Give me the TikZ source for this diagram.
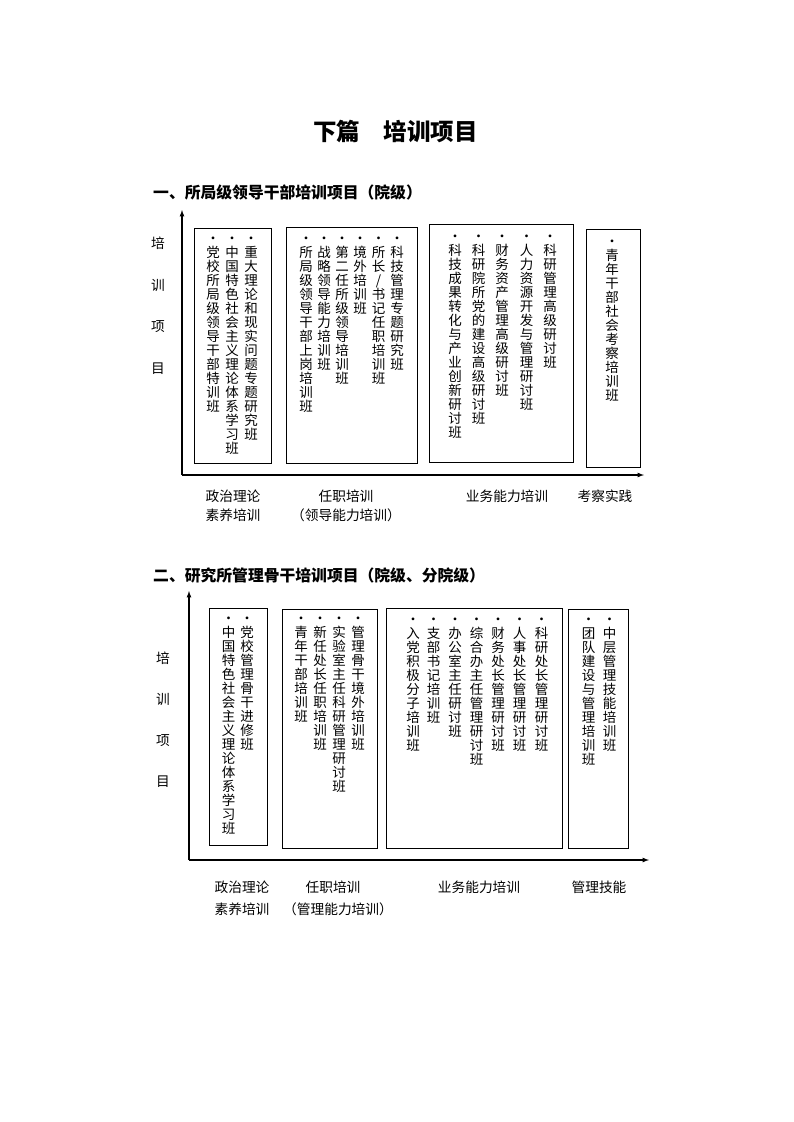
\documentclass[tikz,border=0pt]{standalone}
\usepackage{fontspec}
\setmainfont{Noto Sans CJK SC}
\usetikzlibrary{arrows, positioning}

% one character per line, read top to bottom
\ExplSyntaxOn
\NewDocumentCommand \vcol { m }
  {
    \vtop
      {
        \baselineskip=14pt
        \lineskiplimit=-100pt
        \tl_map_inline:nn {#1} { \hbox_to_wd:nn {14pt} { \hss ##1 \hss } }
      }
  }
\ExplSyntaxOff

\tikzstyle{frame}=[draw, rectangle, line width=0.9pt, inner sep=0pt]
\tikzstyle{column}=[anchor=base, inner sep=0pt, font=\fontsize{13.5}{14}\selectfont]
\tikzstyle{axis}=[line width=1.2pt, -latex]
\tikzstyle{label}=[inner sep=0pt, font=\fontsize{13.7}{14}\selectfont]
\tikzstyle{heading}=[anchor=west, inner sep=0pt, font=\bfseries\fontsize{15.8}{16}\selectfont]

\begin{document}
\begin{tikzpicture}[x=1pt, y=-1pt]
    \useasboundingbox (0, 0) rectangle (793, 1122);

    \node (title)[inner sep=0pt, font=\bfseries\fontsize{23.5}{24}\selectfont] at (395.5, 131.5) {下篇\quad 培训项目};

    % part one
    \node (headA)[heading] at (153, 192) {一、所局级领导干部培训项目（院级）};

    \coordinate (oA) at (182, 475);
    \coordinate (yA) at (182, 210);
    \coordinate (xA) at (644, 475);
    \draw[axis] (oA) -- (yA);
    \draw[axis] (oA) -- (xA);

    \node (pA1)[label] at (158, 243) {培};
    \node (pA2)[label] at (158, 285) {训};
    \node (pA3)[label] at (158, 327) {项};
    \node (pA4)[label] at (158, 369) {目};

    \node (boxA1)[frame, minimum width=77pt, minimum height=235pt] at (232.5, 345.5) {};
    \node (boxA2)[frame, minimum width=131pt, minimum height=236pt] at (351.5, 345.5) {};
    \node (boxA3)[frame, minimum width=144pt, minimum height=238pt] at (501, 343) {};
    \node (boxA4)[frame, minimum width=54pt, minimum height=238pt] at (613, 348) {};

    \node (cA11)[column] at (213, 243) {\vcol{•党校所局级领导干部特训班}};
    \node (cA12)[column] at (232, 243) {\vcol{•中国特色社会主义理论体系学习班}};
    \node (cA13)[column] at (251, 243) {\vcol{•重大理论和现实问题专题研究班}};

    \node (cA21)[column] at (306, 243) {\vcol{•所局级领导干部上岗培训班}};
    \node (cA22)[column] at (324, 243) {\vcol{•战略领导能力培训班}};
    \node (cA23)[column] at (342, 243) {\vcol{•第二任所级领导培训班}};
    \node (cA24)[column] at (360, 243) {\vcol{•境外培训班}};
    \node (cA25)[column] at (378.5, 243) {\vcol{•所长/书记任职培训班}};
    \node (cA26)[column] at (397, 243) {\vcol{•科技管理专题研究班}};

    \node (cA31)[column] at (455, 241) {\vcol{•科技成果转化与产业创新研讨班}};
    \node (cA32)[column] at (478.5, 241) {\vcol{•科研院所党的建设高级研讨班}};
    \node (cA33)[column] at (502, 241) {\vcol{•财务资产管理高级研讨班}};
    \node (cA34)[column] at (526.5, 241) {\vcol{•人力资源开发与管理研讨班}};
    \node (cA35)[column] at (550, 241) {\vcol{•科研管理高级研讨班}};

    \node (cA41)[column] at (612, 246) {\vcol{•青年干部社会考察培训班}};

    \node (lA1)[label] at (233, 496) {政治理论};
    \node (lA1b)[label, below=6pt of lA1] {素养培训};
    \node (lA2)[label] at (346, 496) {任职培训};
    \node (lA2b)[label, below=6pt of lA2] {（领导能力培训）};
    \node (lA3)[label] at (507, 496) {业务能力培训};
    \node (lA4)[label] at (605, 496) {考察实践};

    % part two
    \node (headB)[heading] at (153, 575) {二、研究所管理骨干培训项目（院级、分院级）};

    \coordinate (oB) at (189, 860);
    \coordinate (yB) at (189, 591);
    \coordinate (xB) at (649, 860);
    \draw[axis] (oB) -- (yB);
    \draw[axis] (oB) -- (xB);

    \node (pB1)[label] at (163, 658) {培};
    \node (pB2)[label] at (163, 699) {训};
    \node (pB3)[label] at (163, 741) {项};
    \node (pB4)[label] at (163, 782) {目};

    \node (boxB1)[frame, minimum width=58pt, minimum height=237pt] at (238, 726.5) {};
    \node (boxB2)[frame, minimum width=95pt, minimum height=239pt] at (329.5, 728.5) {};
    \node (boxB3)[frame, minimum width=176pt, minimum height=240pt] at (474, 728) {};
    \node (boxB4)[frame, minimum width=60pt, minimum height=239pt] at (598, 728.5) {};

    \node (cB11)[column] at (228.5, 623) {\vcol{•中国特色社会主义理论体系学习班}};
    \node (cB12)[column] at (247, 623) {\vcol{•党校管理骨干进修班}};

    \node (cB21)[column] at (301, 623) {\vcol{•青年干部培训班}};
    \node (cB22)[column] at (320, 623) {\vcol{•新任处长任职培训班}};
    \node (cB23)[column] at (339, 623) {\vcol{•实验室主任科研管理研讨班}};
    \node (cB24)[column] at (358, 623) {\vcol{•管理骨干境外培训班}};

    \node (cB31)[column] at (413, 624) {\vcol{•入党积极分子培训班}};
    \node (cB32)[column] at (433.5, 624) {\vcol{•支部书记培训班}};
    \node (cB33)[column] at (455, 624) {\vcol{•办公室主任研讨班}};
    \node (cB34)[column] at (476.5, 624) {\vcol{•综合办主任管理研讨班}};
    \node (cB35)[column] at (498, 624) {\vcol{•财务处长管理研讨班}};
    \node (cB36)[column] at (519.5, 624) {\vcol{•人事处长管理研讨班}};
    \node (cB37)[column] at (541.5, 624) {\vcol{•科研处长管理研讨班}};

    \node (cB41)[column] at (588.5, 624) {\vcol{•团队建设与管理培训班}};
    \node (cB42)[column] at (609.5, 624) {\vcol{•中层管理技能培训班}};

    \node (lB1)[label] at (242, 887) {政治理论};
    \node (lB1b)[label, below=9pt of lB1] {素养培训};
    \node (lB2)[label] at (333, 887) {任职培训};
    \node (lB2b)[label, below=9pt of lB2, xshift=5pt] {（管理能力培训）};
    \node (lB3)[label] at (479, 887) {业务能力培训};
    \node (lB4)[label] at (599, 887) {管理技能};

\end{tikzpicture}
\end{document}
